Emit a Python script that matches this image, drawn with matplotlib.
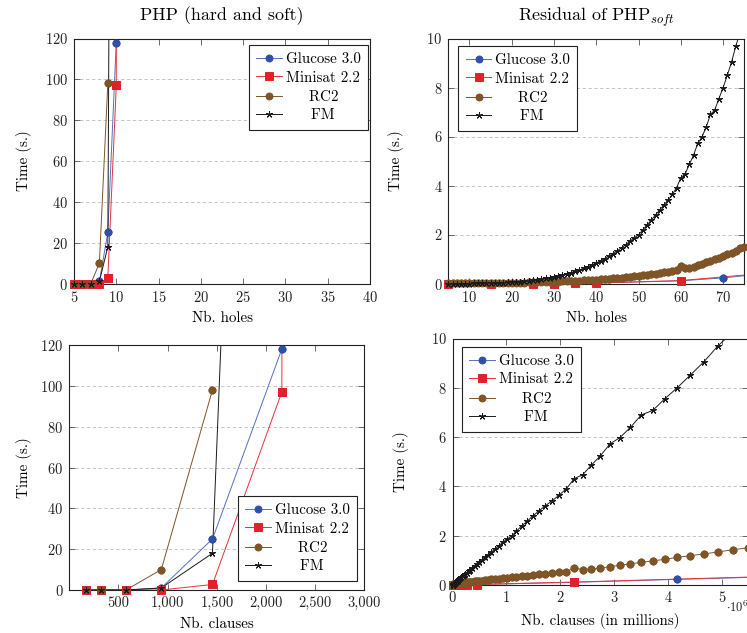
import matplotlib
matplotlib.use("Agg")
import matplotlib.pyplot as plt
from matplotlib.ticker import FuncFormatter

plt.rcParams["font.family"] = "serif"
plt.rcParams["font.serif"] = ["cmr10"]
plt.rcParams["mathtext.fontset"] = "cm"
plt.rcParams["axes.formatter.use_mathtext"] = True
plt.rcParams["font.size"] = 10.8

# PHP (hard and soft): holes 5..11, clauses per instance
php_holes = [5, 6, 7, 8, 9, 10, 11]
php_clauses = [170, 320, 575, 935, 1455, 2160, 3050]
php_glucose = [0, 0, 0, 1, 25, 118]
php_minisat = [0, 0, 0, 0, 2.7, 97, 40000]
php_rc2 = [0, 0, 0, 10, 98]
php_fm = [0, 0, 0, 1, 18, 860]

# Residual of PHP_soft: holes 5..80, clauses in millions
res_holes = list(range(5, 81))
res_clauses_m = [
    0.0002, 0.0003, 0.0005, 0.0009, 0.0014, 0.0020, 0.0029, 0.0041, 0.0056, 0.0074,
    0.0097, 0.0125, 0.0158, 0.0197, 0.0244, 0.0298, 0.0360, 0.0432, 0.0514, 0.0607,
    0.0713, 0.0831, 0.0964, 0.1112, 0.1277, 0.1459, 0.1660, 0.1881, 0.2123, 0.2389,
    0.2678, 0.2993, 0.3334, 0.3705, 0.4105, 0.4537, 0.5002, 0.5501, 0.6038, 0.6613,
    0.7227, 0.7884, 0.8585, 0.9331, 1.0124, 1.0968, 1.1863, 1.2811, 1.3816, 1.4878,
    1.6001, 1.7186, 1.8435, 1.9751, 2.1137, 2.2594, 2.4126, 2.5734, 2.7421, 2.9190,
    3.1042, 3.2982, 3.5011, 3.7133, 3.9349, 4.1663, 4.4078, 4.6596, 4.9221, 5.1955,
    5.4801, 5.776, 6.084, 6.404, 6.737, 7.082,
]
# holes 5..75
res_fm = [
    0.00, 0.00, 0.00, 0.00, 0.00, 0.00, 0.01, 0.01, 0.01, 0.01,
    0.02, 0.02, 0.03, 0.04, 0.05, 0.06, 0.07, 0.08, 0.10, 0.11,
    0.13, 0.15, 0.18, 0.21, 0.24, 0.27, 0.31, 0.35, 0.39, 0.44,
    0.50, 0.55, 0.62, 0.69, 0.76, 0.84, 0.93, 1.02, 1.12, 1.22,
    1.34, 1.46, 1.59, 1.73, 1.87, 1.98, 2.19, 2.39, 2.58, 2.80,
    3.00, 3.21, 3.41, 3.64, 3.91, 4.32, 4.47, 4.86, 5.24, 5.72,
    5.98, 6.39, 6.90, 7.08, 7.55, 8.00, 8.51, 9.05, 9.70, 10.25,
    10.80,
]
res_rc2 = [
    0.02, 0.02, 0.02, 0.02, 0.02, 0.02, 0.02, 0.02, 0.02, 0.02,
    0.03, 0.03, 0.03, 0.03, 0.03, 0.03, 0.04, 0.04, 0.04, 0.05,
    0.05, 0.05, 0.06, 0.06, 0.07, 0.07, 0.08, 0.09, 0.09, 0.10,
    0.11, 0.12, 0.13, 0.14, 0.15, 0.16, 0.17, 0.18, 0.20, 0.21,
    0.23, 0.24, 0.26, 0.28, 0.30, 0.32, 0.34, 0.36, 0.38, 0.40,
    0.43, 0.45, 0.48, 0.51, 0.54, 0.70, 0.62, 0.65, 0.69, 0.74,
    0.80, 0.86, 0.92, 0.98, 1.04, 1.12, 1.19, 1.26, 1.34, 1.43,
    1.51,
]
res_glucose_holes = [5, 15, 25, 30, 35, 40, 60, 70, 80]
res_glucose = [0, 0, 0, 0, 0.01, 0.02, 0.11, 0.23, 0.40]
res_minisat_holes = [5, 15, 25, 30, 35, 40, 60, 80]
res_minisat = [0, 0, 0, 0, 0.01, 0.02, 0.12, 0.42]

labels = ["Glucose 3.0", "Minisat 2.2", "    $\\,$RC2", "     FM"]
colors = ["#3050a8", "#e3202a", "#7f5427", "#1a1a1a"]
line_colors = ["#5570c0", "#e8303a", "#7f5427", "#1a1a1a"]
markers = ["o", "s", "o", (5, 2, 0)]
msizes = [5.0, 5.2, 5.0, 5.0]

W, H = 747, 633
fig = plt.figure(figsize=(W / 100, H / 100), dpi=100)


def px_axes(left, right, top, bottom):
    return fig.add_axes([left / W, 1 - bottom / H, (right - left) / W, (bottom - top) / H])


def style(ax):
    for s in ax.spines.values():
        s.set_linewidth(0.8)
        s.set_color("#222222")
    ax.tick_params(direction="in", top=True, right=True, length=4, width=0.6,
                   color="#555555", labelcolor="#222222", labelsize=10.4)
    ax.tick_params(axis="y", pad=4.3)
    ax.tick_params(axis="x", pad=4.5)
    ax.yaxis.grid(True, linestyle=(0, (4, 3)), color="#bdbdbd", linewidth=0.6)
    ax.set_axisbelow(True)


def draw(ax, series, xlim, ylim):
    ax.set_xlim(*xlim)
    ax.set_ylim(*ylim)
    for (xs, ys), lab, c, lc, m, ms in zip(series, labels, colors, line_colors,
                                            markers, msizes):
        n = min(len(xs), len(ys))
        xs, ys = list(xs[:n]), list(ys[:n])
        ax.plot(xs, ys, color=lc, marker=m, ms=ms, mec=c, mfc=c,
                mew=0.7, lw=0.7, label=lab)
        # marks inside the range are drawn whole, also over the frame
        inside = [(x, y) for x, y in zip(xs, ys)
                  if xlim[0] <= x <= xlim[1] and ylim[0] <= y <= ylim[1]]
        if inside:
            ix, iy = zip(*inside)
            ax.plot(ix, iy, ls="none", marker=m, ms=ms, mec=c, mfc=c,
                    mew=0.7, clip_on=False, zorder=3)


def legend(ax, loc, anchor):
    leg = ax.legend(loc=loc, bbox_to_anchor=anchor, fancybox=False, framealpha=1,
                    edgecolor="#222222", labelspacing=0.3, borderpad=0.5,
                    handlelength=1.7, handletextpad=0.25, borderaxespad=0)
    leg.get_frame().set_linewidth(0.8)
    leg.set_zorder(5)


def labels_at(ax, xlabel, ylab_x):
    ax.set_xlabel(xlabel)
    ax.set_ylabel("Time (s.)")
    ax.xaxis.set_label_coords(0.5, -0.113)
    ax.yaxis.set_label_coords(ylab_x, 0.5)


clause_of = dict(zip(res_holes, res_clauses_m))

# top-left
ax1 = px_axes(74, 370, 38.5, 283.5)
style(ax1)
draw(ax1, [(php_holes, php_glucose), (php_holes, php_minisat),
           (php_holes, php_rc2), (php_holes, php_fm)], (5, 40), (0, 120))
ax1.set_xticks(range(5, 41, 5))
ax1.set_yticks(range(0, 121, 20))
ax1.set_title("PHP (hard and soft)", pad=13)
labels_at(ax1, "Nb. holes", -0.143)
legend(ax1, "upper right", (0.993, 0.973))

# top-right
ax2 = px_axes(448.3, 744.3, 38.5, 283.5)
style(ax2)
draw(ax2, [(res_glucose_holes, res_glucose), (res_minisat_holes, res_minisat),
           (res_holes, res_rc2), (res_holes, res_fm)], (5, 75), (0, 10))
ax2.set_xticks(range(10, 71, 10))
ax2.set_yticks(range(0, 11, 2))
ax2.set_title("Residual of PHP$_{soft}$", pad=13)
labels_at(ax2, "Nb. holes", -0.150)
legend(ax2, "upper left", (0.034, 0.969))

# bottom-left
ax3 = px_axes(69.3, 364.5, 345, 590)
style(ax3)
draw(ax3, [(php_clauses, php_glucose), (php_clauses, php_minisat),
           (php_clauses, php_rc2), (php_clauses, php_fm)], (0, 3000), (0, 120))
ax3.set_xticks(range(500, 3001, 500))
ax3.set_yticks(range(0, 121, 20))
ax3.xaxis.set_major_formatter(FuncFormatter(lambda v, p: f"{v:,.0f}"))
labels_at(ax3, "Nb. clauses", -0.128)
legend(ax3, "lower right", (0.975, 0.037))

# bottom-right
ax4 = px_axes(452.5, 748, 338.5, 585)
style(ax4)
g_cl = [clause_of[h] * 1e6 for h in res_glucose_holes]
m_cl = [clause_of[h] * 1e6 for h in res_minisat_holes]
r_cl = [c * 1e6 for c in res_clauses_m]
draw(ax4, [(g_cl, res_glucose), (m_cl, res_minisat), (r_cl, res_rc2), (r_cl, res_fm)],
     (0, 5.48e6), (0, 10))
ax4.set_xticks([0, 1e6, 2e6, 3e6, 4e6, 5e6])
ax4.set_yticks(range(0, 11, 2))
ax4.xaxis.set_major_formatter(FuncFormatter(lambda v, p: f"{v / 1e6:g}"))
labels_at(ax4, "Nb. clauses (in millions)", -0.147)
ax4.text(0.924, -0.09, r"$\cdot 10^{6}$", transform=ax4.transAxes,
         ha="left", va="center", color="#222222", fontsize=9)
legend(ax4, "upper left", (0.032, 0.966))

fig.savefig("out.png", dpi=100)
